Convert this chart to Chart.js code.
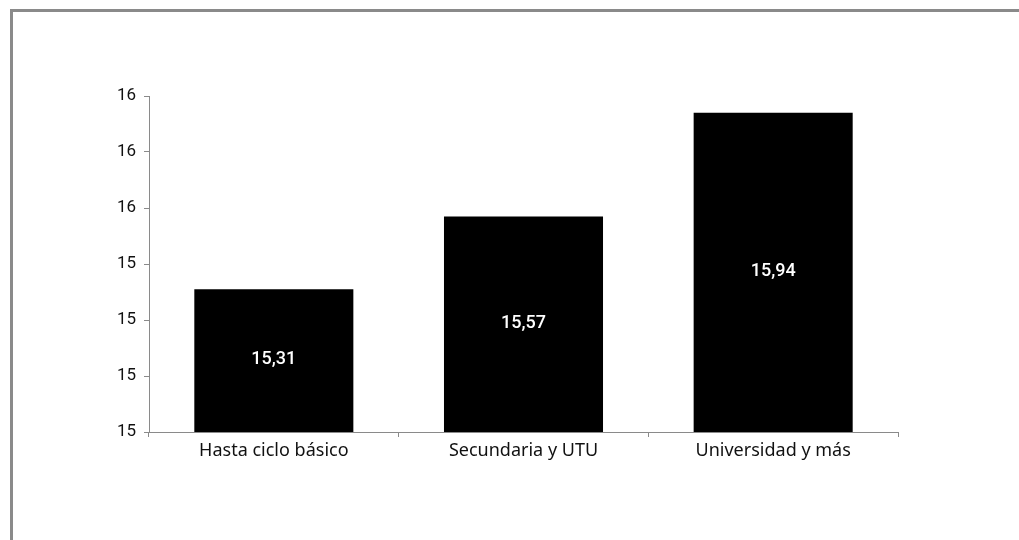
<!DOCTYPE html>
<html>
<head>
<meta charset="utf-8">
<script src="https://cdn.jsdelivr.net/npm/chart.js@4/dist/chart.umd.min.js"></script>
<style>
  html, body { margin: 0; padding: 0; background: #fff; }
  #wrap { position: relative; width: 1019px; height: 540px; overflow: hidden; }
  #frame { position: absolute; left: 10px; top: 9px; width: 1100px; height: 600px;
           border-top: 3px solid #8a8a8a; border-left: 3px solid #8a8a8a; }
  canvas { position: absolute; left: 0; top: 0; }
</style>
</head>
<body>
<div id="wrap">
  <div id="frame"></div>
  <canvas id="barChart" width="1019" height="540"></canvas>
</div>
<script>
// datos del gráfico
const categories = ['Hasta ciclo básico', 'Secundaria y UTU', 'Universidad y más'];
const values = [15.31, 15.57, 15.94];
const yTicks = [14.8, 15.0, 15.2, 15.4, 15.6, 15.8, 16.0];

// etiqueta blanca en el centro de cada barra
const barLabels = {
  id: 'barLabels',
  afterDraw(chart) {
    const c = chart.ctx;
    const xs = chart.scales.x;
    const ys = chart.scales.y;
    c.save();
    c.fillStyle = '#ffffff';
    c.font = '500 18px Roboto';
    c.textAlign = 'center';
    c.textBaseline = 'middle';
    values.forEach((v, i) => {
      const x = xs.getPixelForValue(i);
      const y = (ys.getPixelForValue(v) + ys.bottom) / 2 - 1;
      c.fillText(v.toFixed(2).replace('.', ','), x, y);
    });
    c.restore();
  }
};

const canvas = document.getElementById('barChart');
new Chart(canvas.getContext('2d'), {
  type: 'bar',
  data: {
    labels: categories,
    datasets: [{
      data: values,
      backgroundColor: '#000',
      borderWidth: 0,
      categoryPercentage: 1,
      barPercentage: 0.637
    }]
  },
  options: {
    responsive: false,
    animation: false,
    layout: { padding: { top: 96, right: 121, left: 0, bottom: 0 } },
    plugins: { legend: { display: false }, tooltip: { enabled: false } },
    scales: {
      x: {
        grid: { offset: true, drawOnChartArea: false, drawTicks: true, tickLength: 5, color: '#8a8a8a' },
        border: { color: '#8a8a8a', width: 1 },
        ticks: { color: '#111', font: { family: 'Noto Sans', size: 18 }, padding: 3 },
        afterFit(scale) { scale.height = 108; }
      },
      y: {
        min: 14.8,
        max: 16.0,
        afterBuildTicks(scale) { scale.ticks = yTicks.map(v => ({ value: v })); },
        grid: { drawOnChartArea: false, drawTicks: true, tickLength: 5, color: '#8a8a8a' },
        border: { color: '#8a8a8a', width: 1 },
        ticks: {
          color: '#111',
          font: { family: 'Roboto', size: 17 },
          padding: 8,
          callback: v => Math.round(v).toString()
        },
        afterFit(scale) { scale.width = 149; }
      }
    }
  },
  plugins: [barLabels]
});
</script>
</body>
</html>
